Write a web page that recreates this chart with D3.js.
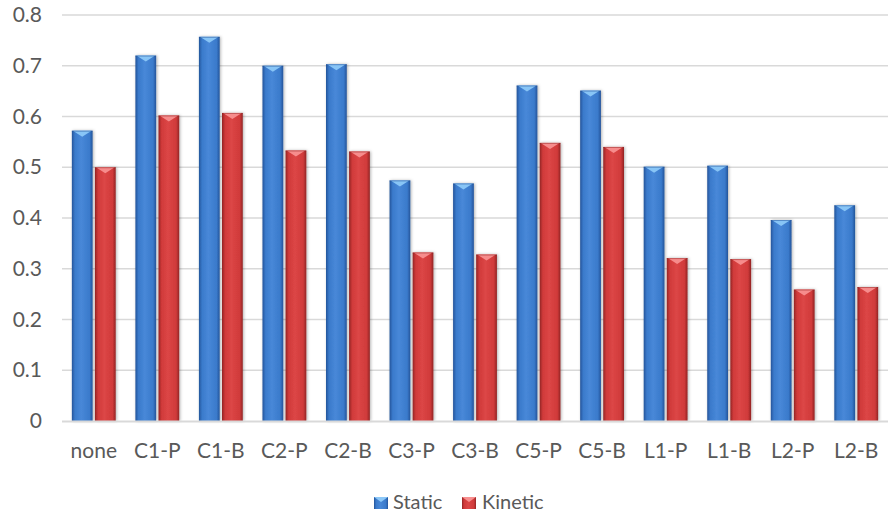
<!DOCTYPE html>
<html><head><meta charset="utf-8">
<script src="https://cdn.jsdelivr.net/npm/d3@7"></script>
<style>body{margin:0;background:#fff}svg{display:block}text{font-family:Lato,"Open Sans",sans-serif;fill:#595959}</style>
</head><body><svg id="c" width="888" height="516"></svg>
<script>
const categories=["none","C1-P","C1-B","C2-P","C2-B","C3-P","C3-B","C5-P","C5-B","L1-P","L1-B","L2-P","L2-B"];
const staticVals=[0.572,0.720,0.757,0.700,0.703,0.474,0.468,0.661,0.651,0.501,0.503,0.396,0.425];
const kineticVals=[0.500,0.602,0.607,0.533,0.531,0.332,0.328,0.548,0.540,0.321,0.319,0.259,0.264];
const seriesNames=["Static","Kinetic"];
const yTicks=[0,0.1,0.2,0.3,0.4,0.5,0.6,0.7,0.8];

const svg=d3.select("#c");
const L=62,R=888,T=15,B=421;
const FS=21;
const x=d3.scaleBand().domain(categories).range([L,R]).paddingInner(0.31).paddingOuter(0.155);
const xs=d3.scaleBand().domain(seriesNames).range([0,x.bandwidth()]).paddingInner(0.1);
const y=d3.scaleLinear().domain([0,0.8]).range([B,T]);

const defs=svg.append("defs");
const pal={Static:{d:"#24549a",m:"#3a7acb",l:"#4888d8",t:"#8cc8f8"},Kinetic:{d:"#922424",m:"#d03a3a",l:"#dc4646",t:"#f89090"}};
Object.entries(pal).forEach(([k,c])=>{
  const g=defs.append("linearGradient").attr("id","g"+k).attr("x1",0).attr("x2",1).attr("y1",0).attr("y2",0);
  g.append("stop").attr("offset","0").attr("stop-color",c.d);
  g.append("stop").attr("offset","0.15").attr("stop-color",c.m);
  g.append("stop").attr("offset","0.45").attr("stop-color",c.l);
  g.append("stop").attr("offset","0.85").attr("stop-color",c.m);
  g.append("stop").attr("offset","1").attr("stop-color",c.d);
});
const f=defs.append("filter").attr("id","sh").attr("x","-30%").attr("y","-10%").attr("width","160%").attr("height","120%");
f.append("feDropShadow").attr("dx",1).attr("dy",0).attr("stdDeviation",1.5).attr("flood-color","#000").attr("flood-opacity",0.3);

// gridlines
svg.append("g").selectAll("line").data(yTicks.filter(d=>d>0)).join("line")
  .attr("x1",L).attr("x2",R).attr("y1",d=>y(d)).attr("y2",d=>y(d))
  .attr("stroke","#d9d9d9").attr("stroke-width",1.5);

// y labels
const yAxis=d3.axisLeft(y).tickValues(yTicks).tickFormat(d=>d===0?"0":d3.format(".1f")(d)).tickSize(0).tickPadding(20);
const ya=svg.append("g").attr("transform",`translate(${L},0)`).call(yAxis);
ya.select(".domain").remove();
ya.selectAll("text").attr("font-size",FS).style("font-family","Lato,'Open Sans',sans-serif").attr("fill","#595959");

const data=categories.map((c,i)=>({c,vals:[{s:"Static",v:staticVals[i]},{s:"Kinetic",v:kineticVals[i]}]}));
const groups=svg.append("g").selectAll("g").data(data).join("g").attr("transform",d=>`translate(${x(d.c)},0)`);
const bars=groups.selectAll("g").data(d=>d.vals).join("g");
bars.append("rect").attr("x",d=>xs(d.s)).attr("y",d=>y(d.v)).attr("width",xs.bandwidth()).attr("height",d=>B-y(d.v))
  .attr("fill",d=>`url(#g${d.s})`).attr("filter","url(#sh)");
bars.append("path").attr("d",d=>{const x0=xs(d.s),w=xs.bandwidth(),t=y(d.v);return `M${x0+1},${t}L${x0+w-1},${t}L${x0+w/2},${t+6}Z`;})
  .attr("fill",d=>pal[d.s].t).attr("opacity",0.95);
bars.append("line").attr("x1",d=>xs(d.s)).attr("x2",d=>xs(d.s)+xs.bandwidth()).attr("y1",d=>y(d.v)+0.5).attr("y2",d=>y(d.v)+0.5)
  .attr("stroke",d=>pal[d.s].d).attr("stroke-width",1).attr("opacity",0.5);

// baseline
svg.append("line").attr("x1",L).attr("x2",R).attr("y1",B+0.5).attr("y2",B+0.5).attr("stroke","#d9d9d9").attr("stroke-width",2);

// x labels
const xAxis=d3.axisBottom(x).tickSize(0).tickPadding(22);
const xa=svg.append("g").attr("transform",`translate(0,${B})`).call(xAxis);
xa.select(".domain").remove();
xa.selectAll("text").attr("font-size",FS).style("font-family","Lato,'Open Sans',sans-serif").attr("fill","#595959");

// legend
const leg=svg.append("g");
const lx=[374,462],tx=[393,482];
seriesNames.forEach((s,i)=>{
  leg.append("rect").attr("x",lx[i]).attr("y",497).attr("width",14).attr("height",12).attr("fill",`url(#g${s})`);
  leg.append("path").attr("d",`M${lx[i]},497L${lx[i]+14},497L${lx[i]+7},502Z`).attr("fill",pal[s].t);
  leg.append("text").attr("x",tx[i]).attr("y",509).attr("font-size",20).text(s);
});
</script></body></html>
